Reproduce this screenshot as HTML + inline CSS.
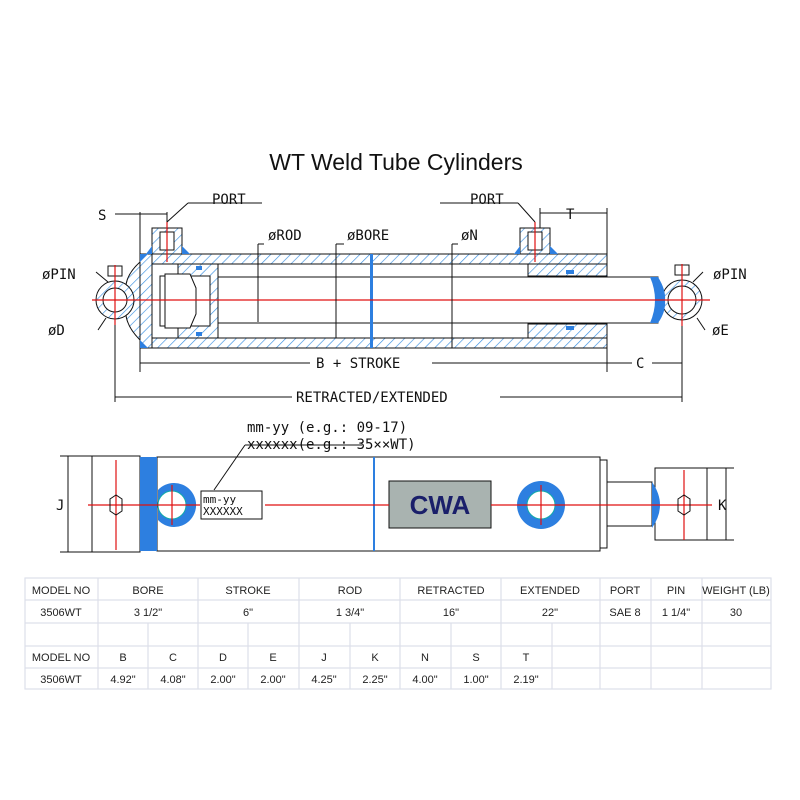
<!DOCTYPE html>
<html><head><meta charset="utf-8"><style>
html,body{margin:0;padding:0;background:#fff;width:800px;height:800px;overflow:hidden}
svg{display:block}
.t{font-family:"Liberation Sans",sans-serif}
.m{font-family:"DejaVu Sans Mono","Liberation Mono",monospace}
</style></head><body>
<svg width="800" height="800" viewBox="0 0 800 800" xmlns="http://www.w3.org/2000/svg">
<defs>
<pattern id="h" width="7" height="7" patternUnits="userSpaceOnUse" patternTransform="rotate(45)">
<rect width="7" height="7" fill="#fff"/><line x1="0" y1="0" x2="0" y2="7" stroke="#3a8fe0" stroke-width="1.3"/></pattern>
</defs>
<text x="396" y="170" class="t" font-size="23" text-anchor="middle" fill="#111">WT Weld Tube Cylinders</text>

<!-- TOP VIEW -->
<g stroke="#111" stroke-width="1" fill="none">
<rect x="140" y="254" width="467" height="10" fill="url(#h)"/>
<rect x="140" y="338" width="467" height="10" fill="url(#h)"/>
<path d="M140 254 L152 254 L152 348 L140 348 Z" fill="url(#h)"/>
<path d="M140 262 Q120 280 128 300 Q120 320 140 340 Z" fill="url(#h)"/>
<path d="M178 264 L218 264 L218 338 L178 338 Z" fill="url(#h)"/>
<rect x="160" y="276" width="50" height="50" fill="#fff"/>
<polygon points="165,274 190,274 196,288 196,314 190,328 165,328" fill="#fff"/>
<rect x="218" y="277" width="440" height="46" fill="#fff"/>
<line x1="258" y1="278" x2="258" y2="322"/>
<rect x="528" y="264" width="79" height="12" fill="url(#h)"/>
<rect x="528" y="324" width="79" height="14" fill="url(#h)"/>
<rect x="152" y="228" width="30" height="26" fill="url(#h)"/>
<rect x="160" y="232" width="14" height="18" fill="#fff"/>
<rect x="520" y="228" width="30" height="26" fill="url(#h)"/>
<rect x="528" y="232" width="14" height="18" fill="#fff"/>
<circle cx="115" cy="300" r="19" fill="url(#h)"/>
<circle cx="115" cy="300" r="12" fill="#fff"/>
<circle cx="682" cy="300" r="20" fill="url(#h)"/>
<circle cx="682" cy="300" r="14" fill="#fff"/>
<rect x="108" y="266" width="14" height="10" fill="#fff"/>
<rect x="675" y="265" width="14" height="10" fill="#fff"/>
</g>
<g fill="#2d7fe0">
<polygon points="140,254 148,254 140,262"/><polygon points="140,348 148,348 140,340"/>
<polygon points="146,254 152,246 152,254"/><polygon points="182,246 190,254 182,254"/>
<polygon points="514,254 520,246 520,254"/><polygon points="550,246 558,254 550,254"/>
<rect x="196" y="266" width="6" height="4"/><rect x="196" y="332" width="6" height="4"/>
<rect x="566" y="270" width="8" height="4"/><rect x="566" y="326" width="8" height="4"/>
</g>
<path d="M658 277 Q666 290 665 300 Q666 312 658 323 L650 323 Q660 300 650 277 Z" fill="#2d7fe0"/>
<rect x="370" y="254" width="3" height="94" fill="#2d7fe0"/>
<g stroke="#e01010" stroke-width="1.2">
<line x1="92" y1="300" x2="710" y2="300"/>
<line x1="167" y1="222" x2="167" y2="262"/>
<line x1="535" y1="222" x2="535" y2="262"/>
<line x1="115" y1="265" x2="115" y2="325"/>
<line x1="682" y1="264" x2="682" y2="326"/>
</g>
<g stroke="#111" stroke-width="1" fill="none">
<line x1="140" y1="212" x2="140" y2="254"/><line x1="167" y1="212" x2="167" y2="222"/>
<line x1="115" y1="214" x2="167" y2="214"/>
<line x1="167" y1="222" x2="188" y2="203"/><line x1="188" y1="203" x2="262" y2="203"/>
<line x1="535" y1="222" x2="518" y2="203"/><line x1="440" y1="203" x2="518" y2="203"/>
<line x1="540" y1="213" x2="607" y2="213"/><line x1="607" y1="208" x2="607" y2="254"/><line x1="540" y1="208" x2="540" y2="228"/>
<line x1="258" y1="244" x2="258" y2="278"/><line x1="258" y1="244" x2="264" y2="244"/>
<line x1="336" y1="244" x2="336" y2="338"/><line x1="336" y1="244" x2="344" y2="244"/>
<line x1="452" y1="244" x2="452" y2="348"/><line x1="452" y1="244" x2="458" y2="244"/>
<line x1="140" y1="348" x2="140" y2="372"/><line x1="607" y1="348" x2="607" y2="372"/>
<line x1="115" y1="325" x2="115" y2="402"/><line x1="682" y1="326" x2="682" y2="402"/>
<line x1="140" y1="363" x2="310" y2="363"/><line x1="432" y1="363" x2="607" y2="363"/>
<line x1="607" y1="363" x2="632" y2="363"/><line x1="652" y1="363" x2="682" y2="363"/>
<line x1="115" y1="397" x2="292" y2="397"/><line x1="500" y1="397" x2="682" y2="397"/>
<line x1="96" y1="272" x2="108" y2="282"/><line x1="98" y1="330" x2="106" y2="318"/>
<line x1="703" y1="272" x2="693" y2="282"/><line x1="705" y1="330" x2="697" y2="318"/>
</g>
<g class="m" font-size="14" fill="#111">
<text x="212" y="204">PORT</text><text x="470" y="204">PORT</text>
<text x="98" y="220">S</text><text x="566" y="219">T</text>
<text x="268" y="240">øROD</text><text x="347" y="240">øBORE</text><text x="461" y="240">øN</text>
<text x="42" y="279">øPIN</text><text x="713" y="279">øPIN</text>
<text x="48" y="335">øD</text><text x="712" y="335">øE</text>
<text x="316" y="368">B + STROKE</text><text x="636" y="368">C</text>
<text x="296" y="402">RETRACTED/EXTENDED</text>
</g>

<!-- BOTTOM VIEW -->
<g stroke="#111" stroke-width="1" fill="none">
<rect x="92" y="456" width="48" height="96" fill="#fff"/>
<rect x="157" y="457" width="443" height="94" fill="#fff"/>
<rect x="600" y="460" width="7" height="88" fill="#fff"/>
<rect x="607" y="482" width="45" height="44" fill="#fff"/>
<rect x="655" y="468" width="52" height="72" fill="#fff"/>
<rect x="201" y="491" width="61" height="28" fill="#fff"/>
<rect x="389" y="481" width="102" height="47" fill="#a9b3b0"/>
<line x1="68" y1="456" x2="68" y2="552"/><line x1="60" y1="456" x2="92" y2="456"/><line x1="60" y1="552" x2="92" y2="552"/>
<line x1="726" y1="468" x2="726" y2="540"/><line x1="707" y1="468" x2="734" y2="468"/><line x1="707" y1="540" x2="734" y2="540"/>
<line x1="214" y1="490" x2="245" y2="445"/><line x1="245" y1="445" x2="362" y2="445"/>
</g>
<rect x="140" y="457" width="17" height="94" fill="#2d7fe0"/>
<path d="M158 490 a22 22 0 1 1 0 30 Z" fill="#2d7fe0"/>
<circle cx="172" cy="505" r="14" fill="#fff" stroke="#1aa" stroke-width="1"/>
<circle cx="541" cy="505" r="24" fill="#2d7fe0"/>
<circle cx="541" cy="505" r="14" fill="#fff" stroke="#1aa" stroke-width="1"/>
<path d="M652 482 Q668 505 652 528 Z" fill="#2d7fe0"/>
<rect x="373" y="457" width="2" height="94" fill="#2d7fe0"/>
<text x="440" y="514" class="t" font-size="26" font-weight="bold" fill="#1a1f6a" text-anchor="middle">CWA</text>
<g stroke="#e01010" stroke-width="1.2">
<line x1="88" y1="505" x2="200" y2="505"/><line x1="265" y1="505" x2="389" y2="505"/><line x1="491" y1="505" x2="712" y2="505"/>
<line x1="116" y1="460" x2="116" y2="550"/><line x1="172" y1="485" x2="172" y2="525"/><line x1="541" y1="485" x2="541" y2="525"/><line x1="684" y1="470" x2="684" y2="540"/>
</g>
<g fill="none" stroke="#111"><polygon points="110,499 116,495 122,499 122,511 116,515 110,511"/><polygon points="678,499 684,495 690,499 690,511 684,515 678,511"/></g>
<g class="m" font-size="14" fill="#111">
<text x="247" y="432">mm-yy (e.g.: 09-17)</text>
<text x="247" y="449">xxxxxx(e.g.: 35××WT)</text>
<text x="56" y="510">J</text><text x="718" y="510">K</text>
<text x="203" y="503" font-size="11">mm-yy</text><text x="203" y="515" font-size="11">XXXXXX</text>
</g>

<!-- TABLE -->
<g stroke="#dde0ea" stroke-width="1.2" fill="none">
<rect x="25" y="578" width="746" height="111"/>
<line x1="25" y1="600" x2="771" y2="600"/><line x1="25" y1="623" x2="771" y2="623"/><line x1="25" y1="646" x2="771" y2="646"/><line x1="25" y1="668" x2="771" y2="668"/>
<g><line x1="98" y1="578" x2="98" y2="689"/><line x1="198" y1="578" x2="198" y2="689"/><line x1="299" y1="578" x2="299" y2="689"/><line x1="400" y1="578" x2="400" y2="689"/><line x1="501" y1="578" x2="501" y2="689"/><line x1="600" y1="578" x2="600" y2="689"/><line x1="651" y1="578" x2="651" y2="689"/><line x1="702" y1="578" x2="702" y2="689"/></g>
<g><line x1="148" y1="623" x2="148" y2="689"/><line x1="248" y1="623" x2="248" y2="689"/><line x1="350" y1="623" x2="350" y2="689"/><line x1="451" y1="623" x2="451" y2="689"/><line x1="552" y1="623" x2="552" y2="689"/></g>
</g>
<g class="t" font-size="11" fill="#222" text-anchor="middle">
<text x="61" y="594">MODEL NO</text><text x="148" y="594">BORE</text><text x="248" y="594">STROKE</text><text x="350" y="594">ROD</text><text x="451" y="594">RETRACTED</text><text x="550" y="594">EXTENDED</text><text x="625" y="594">PORT</text><text x="676" y="594">PIN</text><text x="736" y="594">WEIGHT (LB)</text>
<text x="61" y="616">3506WT</text><text x="148" y="616">3 1/2"</text><text x="248" y="616">6"</text><text x="350" y="616">1 3/4"</text><text x="451" y="616">16"</text><text x="550" y="616">22"</text><text x="625" y="616">SAE 8</text><text x="676" y="616">1 1/4"</text><text x="736" y="616">30</text>
<text x="61" y="661">MODEL NO</text><text x="123" y="661">B</text><text x="173" y="661">C</text><text x="223" y="661">D</text><text x="273" y="661">E</text><text x="324" y="661">J</text><text x="375" y="661">K</text><text x="425" y="661">N</text><text x="476" y="661">S</text><text x="526" y="661">T</text>
<text x="61" y="683">3506WT</text><text x="123" y="683">4.92"</text><text x="173" y="683">4.08"</text><text x="223" y="683">2.00"</text><text x="273" y="683">2.00"</text><text x="324" y="683">4.25"</text><text x="375" y="683">2.25"</text><text x="425" y="683">4.00"</text><text x="476" y="683">1.00"</text><text x="526" y="683">2.19"</text>
</g>
</svg>
</body></html>
